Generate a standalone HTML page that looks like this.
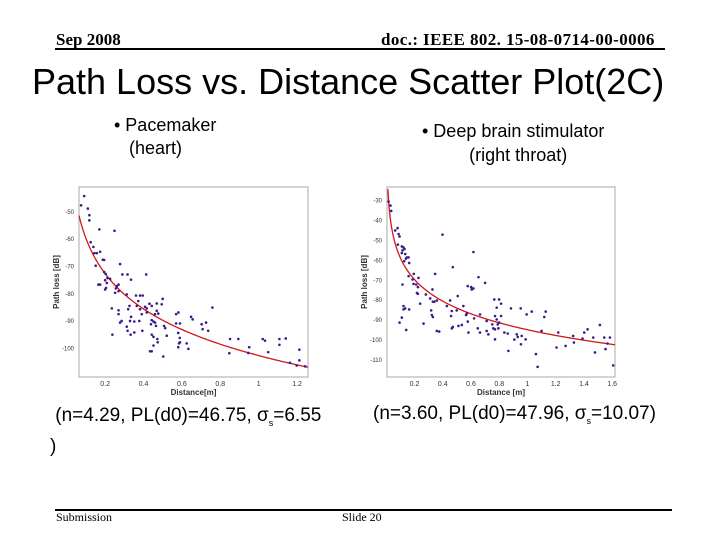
<!DOCTYPE html>
<html><head><meta charset="utf-8"><style>
body{margin:0;width:720px;height:540px;background:#fff;position:relative;overflow:hidden;font-family:"Liberation Sans",sans-serif}
.t{position:absolute;white-space:nowrap;color:#000}
.ser{font-family:"Liberation Serif",serif}
</style></head><body>
<div class="t ser" style="left:56px;top:30px;font-size:17px;font-weight:bold">Sep 2008</div>
<div class="t ser" style="left:381px;top:30px;font-size:17px;font-weight:bold;letter-spacing:0.4px">doc.: IEEE 802. 15-08-0714-00-0006</div>
<div style="position:absolute;left:55px;top:48px;width:610px;height:2px;background:#000"></div>
<div class="t" style="left:32px;top:61px;font-size:36px">Path Loss vs. Distance Scatter Plot(2C)</div>
<div class="t" style="left:114px;top:114px;font-size:18px;line-height:23px">• Pacemaker<br>&nbsp;&nbsp;&nbsp;(heart)</div>
<div class="t" style="left:422px;top:119px;font-size:18px;line-height:24px;text-align:center">• Deep brain stimulator<br>&nbsp;&nbsp;(right throat)</div>
<div class="t" style="left:50px;top:404px;font-size:19px;line-height:24px">&nbsp;(n=4.29, PL(d0)=46.75, σ<sub style="font-size:9px">s</sub>=6.55<br>)</div>
<div class="t" style="left:373px;top:403px;font-size:19px">(n=3.60, PL(d0)=47.96, σ<sub style="font-size:9px">s</sub>=10.07)</div>
<div style="position:absolute;left:55px;top:509px;width:617px;height:2px;background:#000"></div>
<div class="t ser" style="left:56px;top:510px;font-size:12px">Submission</div>
<div class="t ser" style="left:342px;top:510px;font-size:12px">Slide 20</div>
<svg id="chart" width="720" height="540" style="position:absolute;left:0;top:0"></svg>
<script>
const leftDist=[0.075,0.091,0.110,0.118,0.118,0.170,0.249,0.125,0.139,0.144,0.157,0.174,0.151,0.188,0.195,0.278,0.195,0.203,0.212,0.200,0.226,0.209,0.174,0.165,0.205,0.2,0.256,0.261,0.270,0.290,0.317,0.335,0.414,0.252,0.270,0.313,0.361,0.382,0.396,0.373,0.365,0.327,0.320,0.270,0.270,0.235,0.382,0.408,0.417,0.431,0.443,0.469,0.495,0.500,0.469,0.460,0.477,0.417,0.391,0.286,0.278,0.335,0.330,0.352,0.378,0.443,0.452,0.439,0.460,0.465,0.507,0.513,0.313,0.317,0.394,0.352,0.238,0.333,0.443,0.452,0.472,0.521,0.474,0.452,0.434,0.443,0.503,0.570,0.582,0.570,0.590,0.581,0.589,0.585,0.590,0.581,0.625,0.634,0.648,0.656,0.759,0.703,0.726,0.708,0.737,0.851,0.894,0.847,0.951,0.946,1.021,1.033,1.050,1.108,1.141,1.108,1.212,1.212,1.163,1.198,1.242];
const leftLoss=[-47.6,-44.2,-48.8,-51.2,-53.1,-56.4,-56.9,-61.1,-62.8,-65.1,-65.1,-64.6,-69.7,-67.5,-67.6,-69.1,-72.0,-72.7,-74.2,-75.0,-74.5,-76.0,-76.6,-76.6,-77.8,-78.4,-78.0,-77.2,-76.6,-72.9,-72.9,-74.8,-72.9,-79.6,-79.0,-80.2,-80.6,-80.6,-80.6,-82.6,-84.4,-84.4,-85.6,-86.0,-87.4,-85.3,-85.6,-84.7,-85.3,-83.6,-84.4,-83.5,-83.8,-81.8,-86.2,-87.4,-87.2,-86.8,-87.4,-89.9,-90.5,-88.4,-89.9,-90.1,-89.9,-89.6,-90.1,-91.1,-90.5,-91.7,-91.7,-92.5,-92.0,-93.5,-93.5,-94.1,-94.9,-94.9,-94.9,-95.7,-96.5,-95.3,-97.7,-98.9,-101.0,-101.0,-102.9,-87.4,-86.8,-90.8,-90.8,-94.3,-96.1,-98.1,-97.7,-99.5,-98.1,-100.1,-88.4,-89.3,-85.0,-91.1,-90.5,-92.9,-93.5,-96.5,-96.5,-101.7,-99.5,-101.6,-96.5,-97.1,-101.3,-96.5,-96.3,-98.6,-100.4,-104.3,-105.2,-106.2,-106.5];
const rightDist=[0.016,0.030,0.035,0.063,0.080,0.087,0.094,0.082,0.110,0.122,0.115,0.129,0.110,0.134,0.146,0.158,0.139,0.162,0.127,0.158,0.195,0.186,0.193,0.212,0.224,0.228,0.217,0.224,0.115,0.240,0.122,0.134,0.122,0.162,0.110,0.094,0.141,0.264,0.280,0.311,0.318,0.323,0.330,0.330,0.341,0.358,0.327,0.346,0.398,0.471,0.358,0.375,0.452,0.429,0.464,0.459,0.471,0.464,0.499,0.506,0.511,0.535,0.546,0.565,0.570,0.577,0.582,0.577,0.601,0.605,0.617,0.617,0.622,0.653,0.664,0.648,0.664,0.700,0.711,0.711,0.723,0.751,0.758,0.765,0.782,0.770,0.782,0.789,0.770,0.794,0.770,0.799,0.813,0.813,0.799,0.836,0.860,0.865,0.883,0.907,0.924,0.931,0.952,0.959,0.954,0.987,0.994,1.030,1.060,1.072,1.100,1.119,1.129,1.206,1.218,1.270,1.324,1.329,1.390,1.402,1.426,1.466,1.478,1.513,1.544,1.553,1.567,1.584,1.607];
const rightLoss=[-30.5,-32.5,-35.2,-45.0,-43.8,-46.8,-48.0,-52.1,-53.0,-53.5,-55.0,-54.3,-56.3,-56.8,-58.5,-58.5,-59.1,-61.3,-60.4,-67.9,-66.8,-69.6,-71.8,-72.1,-73.4,-68.8,-76.3,-76.8,-72.1,-81.7,-82.9,-84.1,-84.6,-84.6,-88.7,-91.2,-94.9,-91.7,-77.1,-79.1,-85.1,-87.4,-88.4,-80.7,-80.7,-80.1,-74.6,-66.8,-47.1,-63.4,-95.4,-95.7,-80.1,-82.9,-85.4,-87.9,-93.4,-94.1,-85.1,-77.9,-92.9,-92.4,-82.9,-87.4,-86.7,-90.7,-96.2,-72.9,-73.4,-74.6,-74.1,-55.8,-89.1,-68.4,-87.1,-94.1,-96.2,-71.3,-90.4,-95.4,-97.1,-92.1,-94.1,-79.6,-83.7,-87.9,-89.6,-92.1,-94.6,-94.1,-99.6,-79.6,-81.7,-87.9,-91.2,-96.2,-96.7,-105.4,-84.1,-99.7,-97.1,-98.4,-84.1,-97.9,-102.1,-99.6,-87.1,-85.7,-107.0,-113.4,-95.4,-88.4,-85.7,-103.7,-96.2,-102.9,-97.9,-101.2,-99.2,-96.2,-94.6,-98.7,-106.2,-92.4,-98.7,-104.5,-101.7,-98.7,-112.7];
const leftXTicks=[0.2,0.4,0.6,0.8,1,1.2];
const leftYTicks=[-50,-60,-70,-80,-90,-100];
const rightXTicks=[0.2,0.4,0.6,0.8,1,1.2,1.4,1.6];
const rightYTicks=[-30,-40,-50,-60,-70,-80,-90,-100,-110];
const leftModel=[46.75,4.29];
const rightModel=[47.96,3.60];

const NS='http://www.w3.org/2000/svg';
const svg=document.getElementById('chart');
function mk(tag,attrs,parent){const e=document.createElementNS(NS,tag);for(const k in attrs)e.setAttribute(k,attrs[k]);(parent||svg).appendChild(e);return e;}
function plot(cfg,prefix){
  const g=mk('g',{});
  
  
  const sx=d=>cfg.x0+(d-cfg.dmin)/(cfg.dmax-cfg.dmin)*(cfg.x1-cfg.x0);
  const sy=v=>cfg.y0+(cfg.vmax-v)/(cfg.vmax-cfg.vmin)*(cfg.y1-cfg.y0);
  const box=mk('rect',{x:cfg.x0,y:cfg.y0,width:cfg.x1-cfg.x0,height:cfg.y1-cfg.y0,fill:'#fff',stroke:'#aaa','stroke-width':1},g);
  
  
  cfg.xt.forEach(t=>{
    const tx=mk('text',{x:sx(t),y:cfg.y1+9,'font-size':7,'text-anchor':'middle',fill:'#333'},g);tx.textContent=String(t);
    
    
  });
  cfg.yt.forEach(t=>{
    const ty=mk('text',{x:cfg.x0-5,y:sy(t)+2,'font-size':6,'text-anchor':'end',fill:'#333'},g);ty.textContent=String(t);
    
    
  });
  const xl=mk('text',{x:(cfg.x0+cfg.x1)/2,y:cfg.y1+18,'font-size':8,'font-weight':'bold','text-anchor':'middle',fill:'#333'},g);
  xl.textContent=cfg.xlabel;
  
  
  const yx=cfg.x0-20,yy=(cfg.y0+cfg.y1)/2;
  const yl=mk('text',{x:yx,y:yy,'font-size':8,'font-weight':'bold','text-anchor':'middle',fill:'#333',transform:`rotate(-90 ${yx} ${yy})`},g);
  yl.textContent='Path loss [dB]';
  
  
  let p='';
  for(let i=0;i<=200;i++){
    const d=cfg.cmin+(cfg.dmax-cfg.cmin)*i/200;
    const v=-(cfg.model[0]+10*cfg.model[1]*Math.log10(d/0.05));
    p+=(i?'L':'M')+sx(d).toFixed(2)+','+sy(v).toFixed(2);
  }
  const c=mk('path',{d:p,fill:'none',stroke:'#d01818','stroke-width':1.3},g);
  
  
  cfg.dist.forEach((d,i)=>{
    const pt=mk('circle',{cx:sx(d),cy:sy(cfg.loss[i]),r:1.3,fill:'#3a1a8a'},g);
    
    
  });
}
plot({x0:79,x1:308,y0:187,y1:377,dmin:0.064,dmax:1.257,vmin:-110.4,vmax:-40.9,xt:leftXTicks,yt:leftYTicks,dist:leftDist,loss:leftLoss,model:leftModel,cmin:0.064,xlabel:'Distance[m]'},'left');
plot({x0:387,x1:615,y0:187,y1:377,dmin:0.005,dmax:1.62,vmin:-118.5,vmax:-23.2,xt:rightXTicks,yt:rightYTicks,dist:rightDist,loss:rightLoss,model:rightModel,cmin:0.011,xlabel:'Distance [m]'},'right');
</script>
</body></html>
